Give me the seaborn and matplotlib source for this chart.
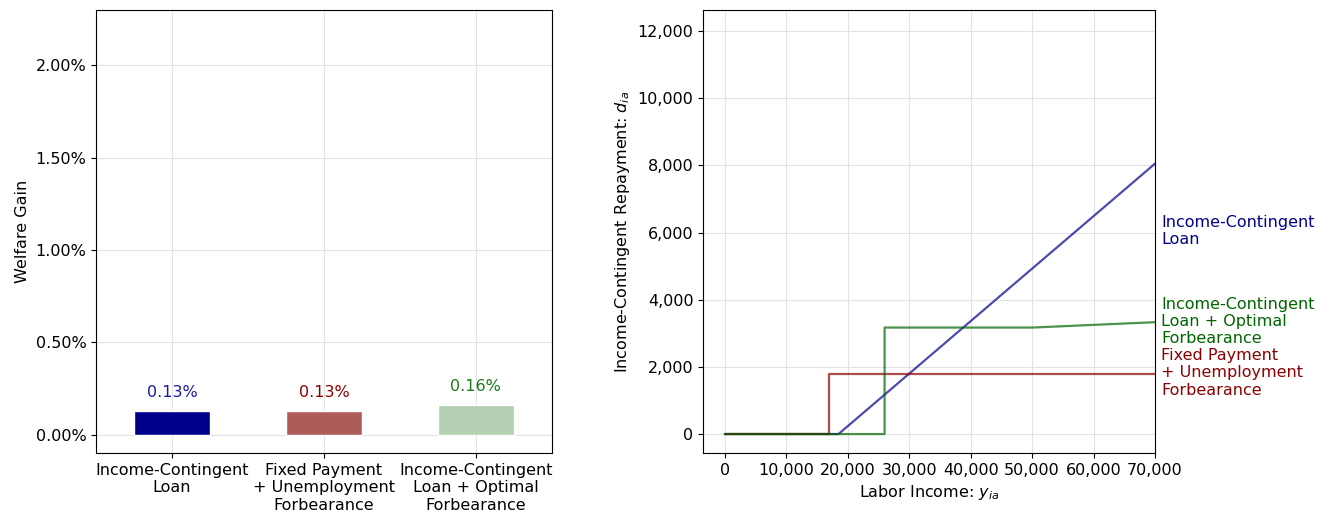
import numpy as np
import pandas as pd
import matplotlib
matplotlib.use("Agg")
import matplotlib.pyplot as plt
import matplotlib.ticker as mticker
import matplotlib.transforms as mtransforms
import seaborn as sns

# welfare gains (fraction)
programs = ["Income-Contingent\nLoan", "Fixed Payment\n+ Unemployment\nForbearance",
            "Income-Contingent\nLoan + Optimal\nForbearance"]
gains = [0.0013, 0.0013, 0.0016]
gain_labels = ["0.13%", "0.13%", "0.16%"]

# repayment schedules
ic_x = [0, 18500, 70000]
ic_y = [0, 0, 8050]
fp_x = [0, 17000, 17000, 70000]
fp_y = [0, 0, 1800, 1800]
opt_x = [0, 26000, 26000, 50000, 70000]
opt_y = [0, 0, 3170, 3170, 3330]

line_names = ["Income-Contingent\nLoan", "Income-Contingent\nLoan + Optimal\nForbearance",
              "Fixed Payment\n+ Unemployment\nForbearance"]
line_label_y = [6050, 3350, 1820]

sns.set_style("ticks", {"axes.grid": True})
plt.rcParams["font.family"] = ["DejaVu Sans"]
plt.rcParams["font.size"] = 11.5
plt.rcParams["grid.color"] = "#e3e3e3"
plt.rcParams["grid.linewidth"] = 0.8
plt.rcParams["axes.edgecolor"] = "black"
plt.rcParams["xtick.color"] = "black"
plt.rcParams["ytick.color"] = "black"
plt.rcParams["text.color"] = "black"
plt.rcParams["axes.labelcolor"] = "black"

fig = plt.figure(figsize=(13.17, 5.15), dpi=100)
ax1 = fig.add_axes([0.073, 0.120, 0.346, 0.861])
ax2 = fig.add_axes([0.534, 0.120, 0.343, 0.861])

# left: welfare gain bars
bar_colors = ["#00008B", "#AD5C5A", "#B3D0B3"]
text_colors = ["#1a1aa0", "#8B0000", "#1a7a1a"]
sns.barplot(x=programs, y=gains, hue=programs, palette=bar_colors, legend=False,
            width=0.5, saturation=1, ax=ax1)
for i, (g, lab) in enumerate(zip(gains, gain_labels)):
    ax1.text(i, g + 0.001, lab, color=text_colors[i], ha="center", va="center")
ax1.set_ylim(-0.001, 0.023)
ax1.yaxis.set_major_formatter(mticker.PercentFormatter(1, decimals=2))
ax1.set_yticks([0, 0.005, 0.01, 0.015, 0.02])
ax1.set_ylabel("Welfare Gain")
ax1.grid(True)
ax1.set_axisbelow(True)

# right: repayment schedules
sns.lineplot(x=ic_x, y=ic_y, color="darkblue", alpha=0.7, lw=1.6, sort=False,
             estimator=None, ax=ax2)
sns.lineplot(x=fp_x, y=fp_y, color="darkred", alpha=0.7, lw=1.6, sort=False,
             estimator=None, ax=ax2)
sns.lineplot(x=opt_x, y=opt_y, color="darkgreen", alpha=0.7, lw=1.6, sort=False,
             estimator=None, ax=ax2)
ax2.set_xlim(-3500, 70000)
ax2.set_ylim(-570, 12630)
ax2.set_xticks(range(0, 70001, 10000))
ax2.set_yticks(range(0, 12001, 2000))
fmt = mticker.FuncFormatter(lambda v, p: f"{int(v):,}")
ax2.xaxis.set_major_formatter(fmt)
ax2.yaxis.set_major_formatter(fmt)
ax2.set_xlabel("Labor Income: $y_{ia}$")
ax2.set_ylabel("Income-Contingent Repayment: $d_{ia}$")
ax2.grid(True)

trans = mtransforms.blended_transform_factory(ax2.transAxes, ax2.transData)
for name, yy, c in zip(line_names, line_label_y, ["darkblue", "darkgreen", "darkred"]):
    ax2.text(1.013, yy, name, transform=trans, color=c, ha="left", va="center",
             linespacing=1.2)

for ax in (ax1, ax2):
    for s in ax.spines.values():
        s.set_visible(True)
        s.set_color("black")

fig.savefig("out.png", dpi=100)
